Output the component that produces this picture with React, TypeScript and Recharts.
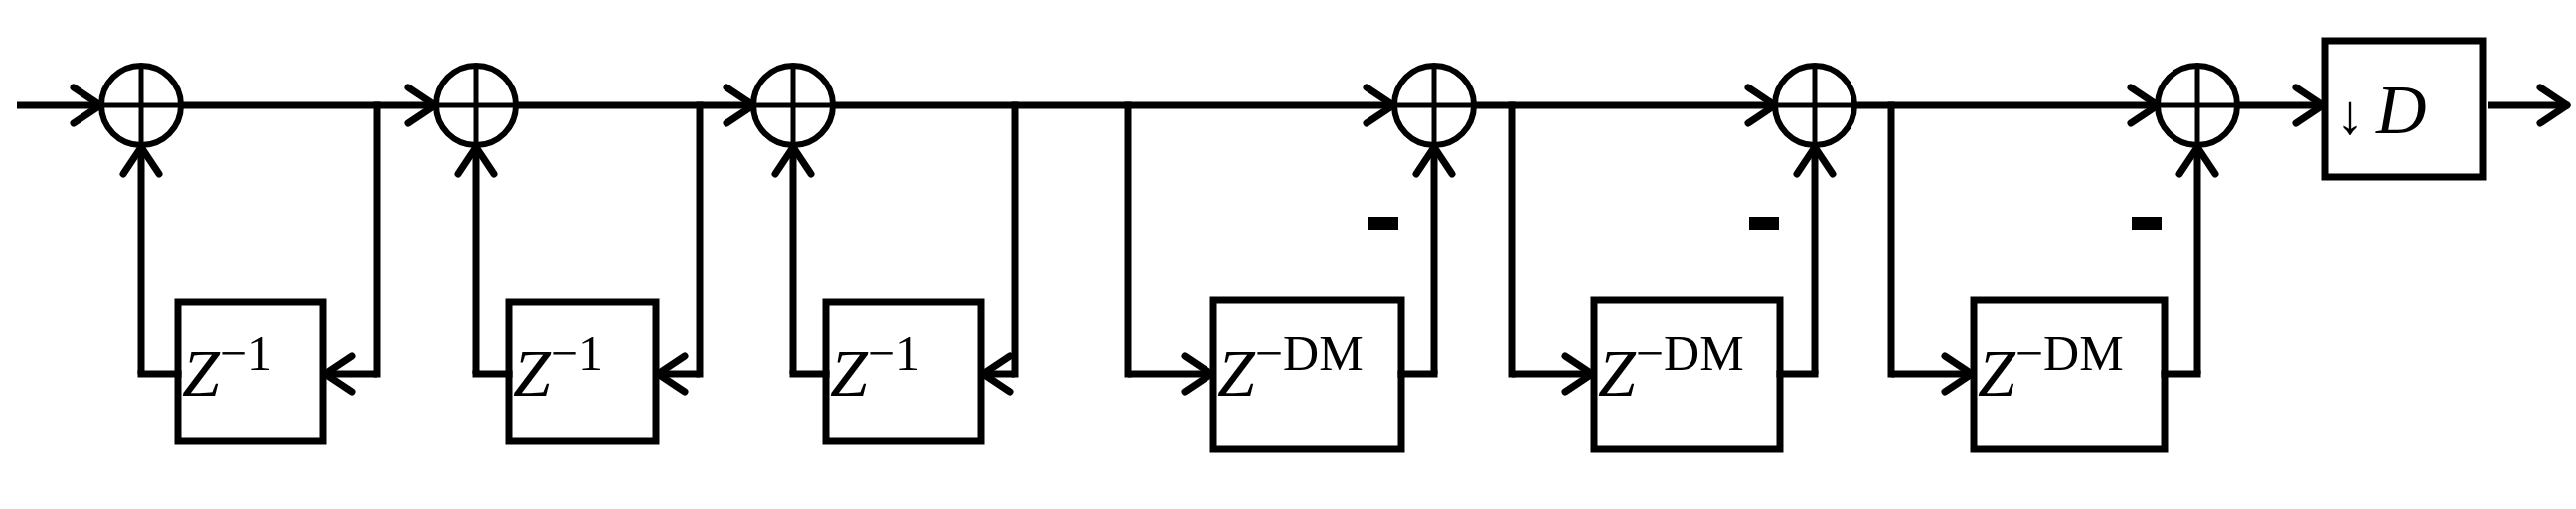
import React from 'react';
import { ComposedChart, XAxis, YAxis, Scatter, ReferenceLine, ReferenceArea, ReferenceDot } from 'recharts';

const W = 2592, H = 512, MAIN_Y = 106, LOOP_Y = 376, R = 40;

const adders = [
  { x: 142, y: MAIN_Y }, { x: 479, y: MAIN_Y }, { x: 798, y: MAIN_Y },
  { x: 1443, y: MAIN_Y }, { x: 1826, y: MAIN_Y }, { x: 2211, y: MAIN_Y },
];
const integrators = [
  { cx: 142, bx1: 179, bx2: 325, tap: 379 },
  { cx: 479, bx1: 512, bx2: 660, tap: 704 },
  { cx: 798, bx1: 831, bx2: 987, tap: 1021 },
];
const combs = [
  { cx: 1443, bx1: 1221, bx2: 1410, tap: 1135 },
  { cx: 1826, bx1: 1604, bx2: 1791, tap: 1521 },
  { cx: 2211, bx1: 1986, bx2: 2178, tap: 1903 },
];
const mainWires = [
  [17, 101], [182, 438], [519, 758], [838, 1402], [1483, 1786], [1866, 2171], [2251, 2337], [2503, 2583],
];
const decimator = { x1: 2339, x2: 2498, y1: 41, y2: 178, label: 'D' };

type P = [number, number];
const seg = (a: P, b: P, key: string, cap = 'square') => (
  <ReferenceLine key={key} segment={[{ x: a[0], y: a[1] }, { x: b[0], y: b[1] }]} stroke="#000" strokeWidth={7}
    strokeLinecap={cap as any} ifOverflow="visible" />
);
const arrow = (tip: P, dir: P, key: string) => {
  const L = 27, Wd = 18;
  const bx = tip[0] - dir[0] * L, by = tip[1] - dir[1] * L;
  const px = -dir[1], py = dir[0];
  return [
    seg([bx + px * Wd, by + py * Wd], tip, key + 'a', 'round'),
    seg([bx - px * Wd, by - py * Wd], tip, key + 'b', 'round'),
  ];
};

const AdderShape = (p: any) => (
  <g>
    <circle cx={p.cx} cy={p.cy} r={R} fill="#fff" stroke="#000" strokeWidth={6} />
    <line x1={p.cx - R} y1={p.cy} x2={p.cx + R} y2={p.cy} stroke="#000" strokeWidth={5} />
    <line x1={p.cx} y1={p.cy - R} x2={p.cx} y2={p.cy + R} stroke="#000" strokeWidth={5} />
  </g>
);

const zLabel = (sup: string) => (p: any) => (
  <text x={p.cx} y={p.cy} fontFamily="Liberation Serif" fill="#000">
    <tspan fontStyle="italic" fontSize={68}>Z</tspan>
    <tspan fontSize={50} dy={-26}>{sup}</tspan>
  </text>
);
const dLabel = (p: any) => (
  <text x={p.cx} y={p.cy} fontFamily="Liberation Serif" fill="#000">
    <tspan fontSize={56}>↓</tspan>
    <tspan fontStyle="italic" fontSize={70} dx={12}>{decimator.label}</tspan>
  </text>
);

export default function App() {
  const els: any[] = [];
  mainWires.forEach(([a, b], i) => {
    els.push(seg([a, MAIN_Y], [b, MAIN_Y], 'm' + i, 'butt'));
    els.push(...arrow([b, MAIN_Y], [1, 0], 'ma' + i));
  });
  integrators.forEach((g, i) => {
    els.push(seg([g.tap, MAIN_Y], [g.tap, LOOP_Y], 'it' + i));
    els.push(seg([g.tap, LOOP_Y], [g.bx2 + 2, LOOP_Y], 'ib' + i, 'butt'));
    els.push(...arrow([g.bx2 + 2, LOOP_Y], [-1, 0], 'ia' + i));
    els.push(seg([g.bx1, LOOP_Y], [g.cx, LOOP_Y], 'il' + i));
    els.push(seg([g.cx, LOOP_Y], [g.cx, MAIN_Y + R + 2], 'iu' + i, 'butt'));
    els.push(...arrow([g.cx, MAIN_Y + R + 2], [0, -1], 'iua' + i));
  });
  combs.forEach((g, i) => {
    els.push(seg([g.tap, MAIN_Y], [g.tap, LOOP_Y], 'ct' + i));
    els.push(seg([g.tap, LOOP_Y], [g.bx1 - 2, LOOP_Y], 'cb' + i, 'butt'));
    els.push(...arrow([g.bx1 - 2, LOOP_Y], [1, 0], 'ca' + i));
    els.push(seg([g.bx2, LOOP_Y], [g.cx, LOOP_Y], 'cl' + i));
    els.push(seg([g.cx, LOOP_Y], [g.cx, MAIN_Y + R + 2], 'cu' + i, 'butt'));
    els.push(...arrow([g.cx, MAIN_Y + R + 2], [0, -1], 'cua' + i));
  });
  return (
    <div style={{ position: 'absolute', left: 0, top: 0, background: '#fff' }}>
      <ComposedChart width={W} height={H} margin={{ top: 0, right: 0, bottom: 0, left: 0 }} data={adders}>
        <XAxis type="number" dataKey="x" domain={[0, W]} hide allowDataOverflow />
        <YAxis type="number" dataKey="y" domain={[0, H]} reversed hide allowDataOverflow />
        {els}
        {integrators.map((g, i) => (
          <ReferenceArea key={'ib' + i} x1={g.bx1} x2={g.bx2} y1={304} y2={444} fill="#fff" fillOpacity={1}
            stroke="#000" strokeWidth={7} ifOverflow="visible" />
        ))}
        {combs.map((g, i) => (
          <ReferenceArea key={'cbx' + i} x1={g.bx1} x2={g.bx2} y1={302} y2={452} fill="#fff" fillOpacity={1}
            stroke="#000" strokeWidth={7} ifOverflow="visible" />
        ))}
        {combs.map((g, i) => (
          <ReferenceArea key={'mn' + i} x1={g.cx - 66} x2={g.cx - 36} y1={218} y2={231} fill="#000" fillOpacity={1}
            stroke="none" ifOverflow="visible" />
        ))}
        <ReferenceArea x1={decimator.x1} x2={decimator.x2} y1={decimator.y1} y2={decimator.y2} fill="#fff" fillOpacity={1}
          stroke="#000" strokeWidth={7} ifOverflow="visible" />
        {integrators.map((g, i) => (
          <ReferenceDot key={'zl' + i} x={g.bx1 + 4} y={398} ifOverflow="visible" shape={zLabel('−1')} />
        ))}
        {combs.map((g, i) => (
          <ReferenceDot key={'zc' + i} x={g.bx1 + 4} y={398} ifOverflow="visible" shape={zLabel('−DM')} />
        ))}
        <ReferenceDot x={decimator.x1 + 12} y={134} ifOverflow="visible" shape={dLabel} />
        <Scatter data={adders} dataKey="y" isAnimationActive={false} shape={AdderShape} />
      </ComposedChart>
    </div>
  );
}
